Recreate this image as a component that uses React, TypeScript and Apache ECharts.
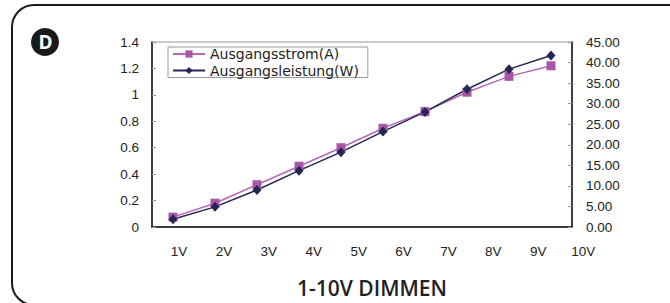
import React, { useEffect, useRef } from "react";
import * as echarts from "echarts";

const categories = ["1V", "2V", "3V", "4V", "5V", "6V", "7V", "8V", "9V", "10V"];
const currentA = [0.075, 0.18, 0.32, 0.46, 0.6, 0.747, 0.873, 1.02, 1.14, 1.22];
const powerW = [1.9, 4.9, 9.0, 13.7, 18.2, 23.2, 28.0, 33.5, 38.4, 41.7];
const seriesNames = ["Ausgangsstrom(A)", "Ausgangsleistung(W)"];
const title = "1-10V DIMMEN";
const badge = "D";

export default function App() {
  const ref = useRef<HTMLDivElement>(null);
  useEffect(() => {
    if (!ref.current) return;
    const chart = echarts.init(ref.current, null, { renderer: "svg" });
    const axisFont = { fontFamily: "Liberation Sans", fontSize: 13.5, color: "#222" };
    chart.setOption({
      animation: false,
      backgroundColor: "#fff",
      grid: [
        { left: 152, right: 98, top: 42, bottom: 76, show: true, borderColor: "#999", borderWidth: 1 },
        { left: 156.6, width: 449, top: 42, bottom: 76, show: false },
      ],
      legend: {
        orient: "vertical",
        left: 168,
        top: 47,
        padding: [0, 9, 0, 4],
        borderColor: "#999",
        borderWidth: 1,
        itemWidth: 32,
        itemHeight: 9,
        itemGap: 2.5,
        data: seriesNames,
        textStyle: { fontFamily: "DejaVu Sans", fontSize: 14, color: "#222", lineHeight: 14 },
      },
      xAxis: [
        {
          type: "category",
          gridIndex: 0,
          data: categories,
          boundaryGap: true,
          axisLine: { lineStyle: { color: "#111", width: 1.5 } },
          axisTick: { inside: true, length: 4, lineStyle: { color: "#999" } },
          axisLabel: { show: false },
        },
        {
          type: "category",
          gridIndex: 1,
          data: categories,
          boundaryGap: true,
          axisLine: { show: false },
          axisTick: { show: false },
          axisLabel: { ...axisFont, margin: 17 },
        },
      ],
      yAxis: [
        {
          type: "value",
          gridIndex: 0,
          min: 0,
          max: 1.4,
          interval: 0.2,
          splitLine: { show: false },
          axisLine: { show: true, lineStyle: { color: "#111", width: 1.5 } },
          axisTick: { show: true, inside: true, length: 4, lineStyle: { color: "#999" } },
          axisLabel: { ...axisFont, margin: 13, formatter: (v: number) => String(Math.round(v * 10) / 10) },
        },
        {
          type: "value",
          gridIndex: 0,
          position: "right",
          min: 0,
          max: 45,
          interval: 5,
          splitLine: { show: false },
          axisLine: { show: true, lineStyle: { color: "#111", width: 1.5 } },
          axisTick: { show: true, inside: true, length: 4, lineStyle: { color: "#999" } },
          axisLabel: { ...axisFont, margin: 14, formatter: (v: number) => v.toFixed(2) },
        },
        { type: "value", gridIndex: 1, show: false },
      ],
      series: [
        {
          name: seriesNames[0],
          type: "line",
          xAxisIndex: 0,
          yAxisIndex: 0,
          data: currentA,
          symbol: "rect",
          symbolSize: 9,
          itemStyle: { color: "#a856a8" },
          lineStyle: { color: "#b768b7", width: 1.5 },
        },
        {
          name: seriesNames[1],
          type: "line",
          xAxisIndex: 0,
          yAxisIndex: 1,
          data: powerW,
          symbol: "diamond",
          symbolSize: [9, 10],
          itemStyle: { color: "#262655" },
          lineStyle: { color: "#262655", width: 1.5 },
        },
      ],
      graphic: [
        {
          type: "rect",
          shape: { x: 12, y: 5, width: 720, height: 300, r: 22 },
          style: { fill: "none", stroke: "#1a1a1a", lineWidth: 2 },
          silent: true,
        },
        {
          type: "circle",
          shape: { cx: 45, cy: 42, r: 14 },
          style: { fill: "#1a1a1a" },
        },
        {
          type: "text",
          x: 45.5,
          y: 42,
          style: {
            text: badge,
            fill: "#fff",
            font: "bold 19px 'Open Sans'",
            align: "center",
            verticalAlign: "middle",
          },
        },
        {
          type: "text",
          x: 372,
          y: 288,
          style: {
            text: title,
            fill: "#222",
            font: "600 21px 'Open Sans'",
            align: "center",
            verticalAlign: "middle",
          },
        },
      ],
    });
    return () => chart.dispose();
  }, []);
  return <div ref={ref} style={{ position: "fixed", left: 0, top: 0, width: 670, height: 303 }} />;
}
